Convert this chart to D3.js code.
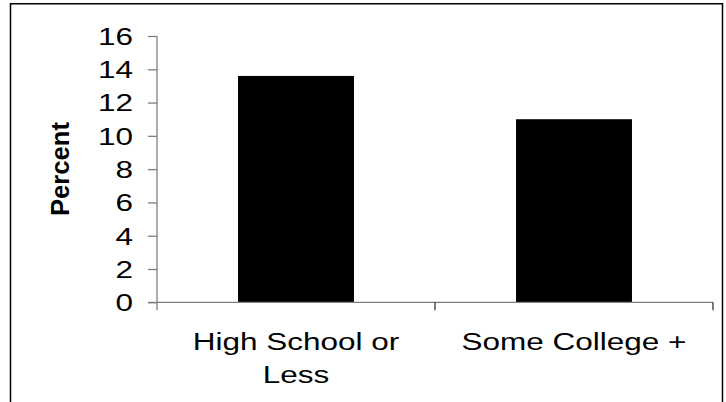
<!DOCTYPE html>
<html>
<head>
<meta charset="utf-8">
<script src="https://cdn.jsdelivr.net/npm/d3@7"></script>
<style>
  html, body { margin: 0; padding: 0; background: #fff; }
  svg { display: block; }
  text { font-family: "Liberation Sans", Arial, Helvetica, sans-serif; fill: #000; }
</style>
</head>
<body>
<svg id="chart" width="726" height="402"></svg>
<script>
// Education groups and their percentages
const categories = ["High School or Less", "Some College +"];
const labelLines = [["High School or", "Less"], ["Some College +"]];
const values = [13.6, 11.0];
const yTicks = [0, 2, 4, 6, 8, 10, 12, 14, 16];
const yTitle = "Percent";

const plot = { left: 157, right: 713, top: 36, bottom: 302.3 };
const fontSize = 23;
const stretchX = 1.37;      // wide lettering used for all horizontal text
const axisGrey = "#7f7f7f";

const svg = d3.select("#chart");

// Outer frame (bottom edge runs past the page)
svg.append("rect")
  .attr("x", 10.5).attr("y", 3.75)
  .attr("width", 712).attr("height", 440)
  .attr("fill", "none").attr("stroke", "#000").attr("stroke-width", 1.5);

const x = d3.scaleBand()
  .domain(categories)
  .range([plot.left, plot.right])
  .paddingInner(0.583)
  .paddingOuter(0.2915);

const y = d3.scaleLinear()
  .domain([0, 16])
  .range([plot.bottom, plot.top]);

// Bars
svg.append("g").selectAll("rect")
  .data(categories)
  .join("rect")
  .attr("x", d => x(d))
  .attr("y", (d, i) => y(values[i]))
  .attr("width", x.bandwidth())
  .attr("height", (d, i) => y(0) - y(values[i]))
  .attr("fill", "#000");

// Y axis
const yAxis = svg.append("g")
  .attr("transform", `translate(${plot.left},0)`)
  .call(d3.axisLeft(y).tickValues(yTicks).tickSize(9).tickPadding(0));
yAxis.select(".domain").attr("stroke", axisGrey).attr("stroke-width", 1.3)
  .attr("d", `M0,${y(16)}V${y(0) + 8}`);
yAxis.selectAll(".tick line").attr("stroke", axisGrey).attr("stroke-width", 1.3);
yAxis.selectAll(".tick text")
  .attr("x", -24 / stretchX)
  .attr("dy", "0.36em")
  .attr("transform", `scale(${stretchX},1)`)
  .style("font-size", fontSize + "px")
  .style("font-family", '"Liberation Sans", Arial, sans-serif')
  .attr("fill", "#000");

// X axis line with tick marks on category boundaries
const boundaries = d3.range(categories.length + 1)
  .map(i => plot.left + i * x.step());
const xAxis = svg.append("g");
xAxis.append("line")
  .attr("x1", plot.left - 9).attr("x2", plot.right)
  .attr("y1", y(0)).attr("y2", y(0))
  .attr("stroke", axisGrey).attr("stroke-width", 1.3);
xAxis.selectAll("line.tick")
  .data(boundaries.slice(1))
  .join("line")
  .attr("class", "tick")
  .attr("x1", d => d).attr("x2", d => d)
  .attr("y1", y(0)).attr("y2", y(0) + 8)
  .attr("stroke", "#222").attr("stroke-width", 1.2);

// Category labels
const catG = svg.append("g").selectAll("g")
  .data(categories)
  .join("g")
  .attr("transform", d => `translate(${x(d) + x.bandwidth() / 2},350)`);
catG.each(function (d, i) {
  const t = d3.select(this).append("text")
    .attr("text-anchor", "middle")
    .attr("transform", `scale(${stretchX},1)`)
    .style("font-size", fontSize + "px");
  labelLines[i].forEach((line, k) => {
    t.append("tspan").attr("x", 0).attr("y", k * 33.5).text(line);
  });
});

// Y axis title
const title = svg.append("text")
  .attr("text-anchor", "middle")
  .attr("dy", "0.36em")
  .style("font-size", "26px")
  .style("font-weight", "bold")
  .text(yTitle);
const len = title.node().getComputedTextLength();
title.attr("transform", `translate(60,${(122 + 216) / 2}) rotate(-90) scale(${94 / len},1)`);
</script>
</body>
</html>
